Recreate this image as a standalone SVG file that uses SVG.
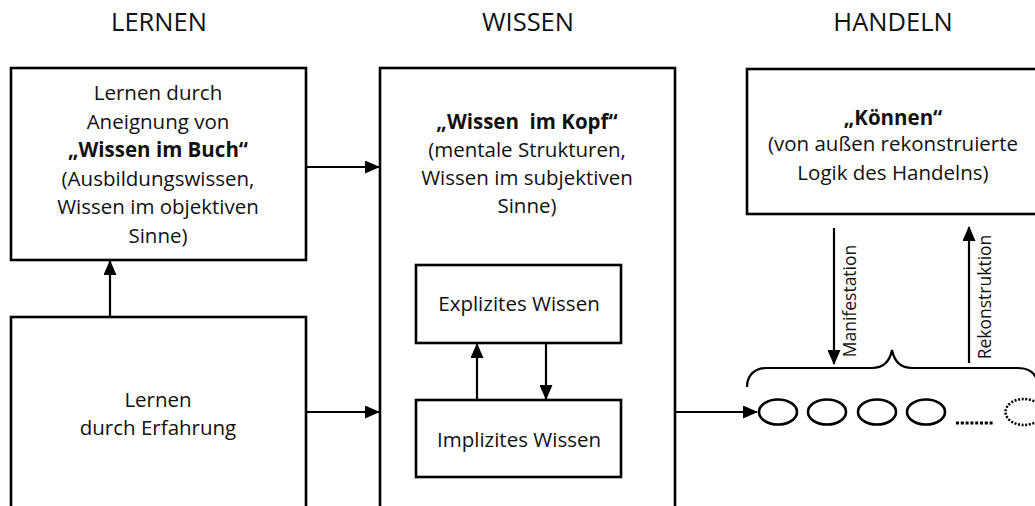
<svg xmlns="http://www.w3.org/2000/svg" width="1035" height="506" viewBox="0 0 1035 506">
<defs>
<marker id="ah" markerWidth="15" markerHeight="13" refX="14" refY="6.5" orient="auto" markerUnits="userSpaceOnUse">
<path d="M0,0 L15,6.5 L0,13 Z" fill="#000"/>
</marker>
<style>
.box{fill:#fff;stroke:#000;stroke-width:2.6}
.t{font-family:"Open Sans","Liberation Sans",sans-serif;font-size:20.5px;fill:#111;text-anchor:middle}
.b{font-weight:bold}
.h{font-family:"Open Sans","Liberation Sans",sans-serif;font-size:25.5px;fill:#111;text-anchor:middle}
.c{stroke:#000;stroke-width:2.2;fill:none}
.e{fill:none;stroke:#000;stroke-width:2.6}
.v{font-family:"Open Sans","Liberation Sans",sans-serif;font-size:17.5px;fill:#111;text-anchor:middle}
</style>
</defs>
<rect width="1035" height="506" fill="#fff"/>
<g id="headers">
<text class="h" x="159" y="31">LERNEN</text>
<text class="h" x="528" y="31">WISSEN</text>
<text class="h" x="893" y="31">HANDELN</text>
</g>
<g id="lernen-buch">
<rect class="box" x="11" y="68" width="295" height="192"/>
<text class="t" x="158" y="100">Lernen durch</text>
<text class="t" x="158" y="129">Aneignung von</text>
<text class="t b" x="158" y="157">„Wissen im Buch“</text>
<text class="t" x="158" y="186">(Ausbildungswissen,</text>
<text class="t" x="158" y="214">Wissen im objektiven</text>
<text class="t" x="158" y="243">Sinne)</text>
</g>
<g id="lernen-erfahrung">
<rect class="box" x="11" y="317" width="295" height="200"/>
<text class="t" x="158" y="407">Lernen</text>
<text class="t" x="158" y="435">durch Erfahrung</text>
</g>
<g id="wissen-kopf">
<rect class="box" x="380" y="68" width="295" height="450"/>
<text class="t b" x="527" y="129" xml:space="preserve">„Wissen  im Kopf“</text>
<text class="t" x="527" y="157">(mentale Strukturen,</text>
<text class="t" x="527" y="185">Wissen im subjektiven</text>
<text class="t" x="527" y="213">Sinne)</text>
</g>
<g id="explizit">
<rect class="box" x="416" y="265" width="205" height="78"/>
<text class="t" x="519" y="311">Explizites Wissen</text>
</g>
<g id="implizit">
<rect class="box" x="416" y="400" width="205" height="77"/>
<text class="t" x="519" y="447">Implizites Wissen</text>
</g>
<g id="koennen">
<rect class="box" x="747" y="69" width="300" height="145"/>
<text class="t b" x="893" y="125">„Können“</text>
<text class="t" x="893" y="151">(von außen rekonstruierte</text>
<text class="t" x="893" y="180">Logik des Handelns)</text>
</g>
<g id="handlungen">
<path class="c" d="M747,387 C747,376 754,368 766,368 L872,368 C884,368 890,360 892,350 C894,360 900,368 912,368 L1018,368 C1030,368 1035,374 1037,380"/>
<ellipse class="e" cx="778" cy="412" rx="19" ry="12.5"/>
<ellipse class="e" cx="827" cy="412" rx="19" ry="12.5"/>
<ellipse class="e" cx="877" cy="412" rx="19" ry="12.5"/>
<ellipse class="e" cx="926" cy="412" rx="19" ry="12.5"/>
<line x1="956" y1="423" x2="993" y2="423" stroke="#000" stroke-width="3" stroke-dasharray="3 1.8"/>
<ellipse cx="1024" cy="412" rx="18.5" ry="13" fill="none" stroke="#000" stroke-width="2.6" stroke-dasharray="2 1.6"/>
</g>
<g id="connectors">
<line class="c" x1="110" y1="317" x2="110" y2="261" marker-end="url(#ah)"/>
<line class="c" x1="306" y1="167" x2="379" y2="167" marker-end="url(#ah)"/>
<line class="c" x1="306" y1="412" x2="379" y2="412" marker-end="url(#ah)"/>
<line class="c" x1="477" y1="400" x2="477" y2="344" marker-end="url(#ah)"/>
<line class="c" x1="546" y1="343" x2="546" y2="399" marker-end="url(#ah)"/>
<line class="c" x1="675" y1="412" x2="757" y2="412" marker-end="url(#ah)"/>
<line class="c" x1="834" y1="228" x2="834" y2="364" marker-end="url(#ah)"/>
<line class="c" x1="969" y1="363" x2="969" y2="227" marker-end="url(#ah)"/>
<text class="v" transform="translate(856,301) rotate(-90)">Manifestation</text>
<text class="v" transform="translate(991,297) rotate(-90)">Rekonstruktion</text>
</g>
</svg>
